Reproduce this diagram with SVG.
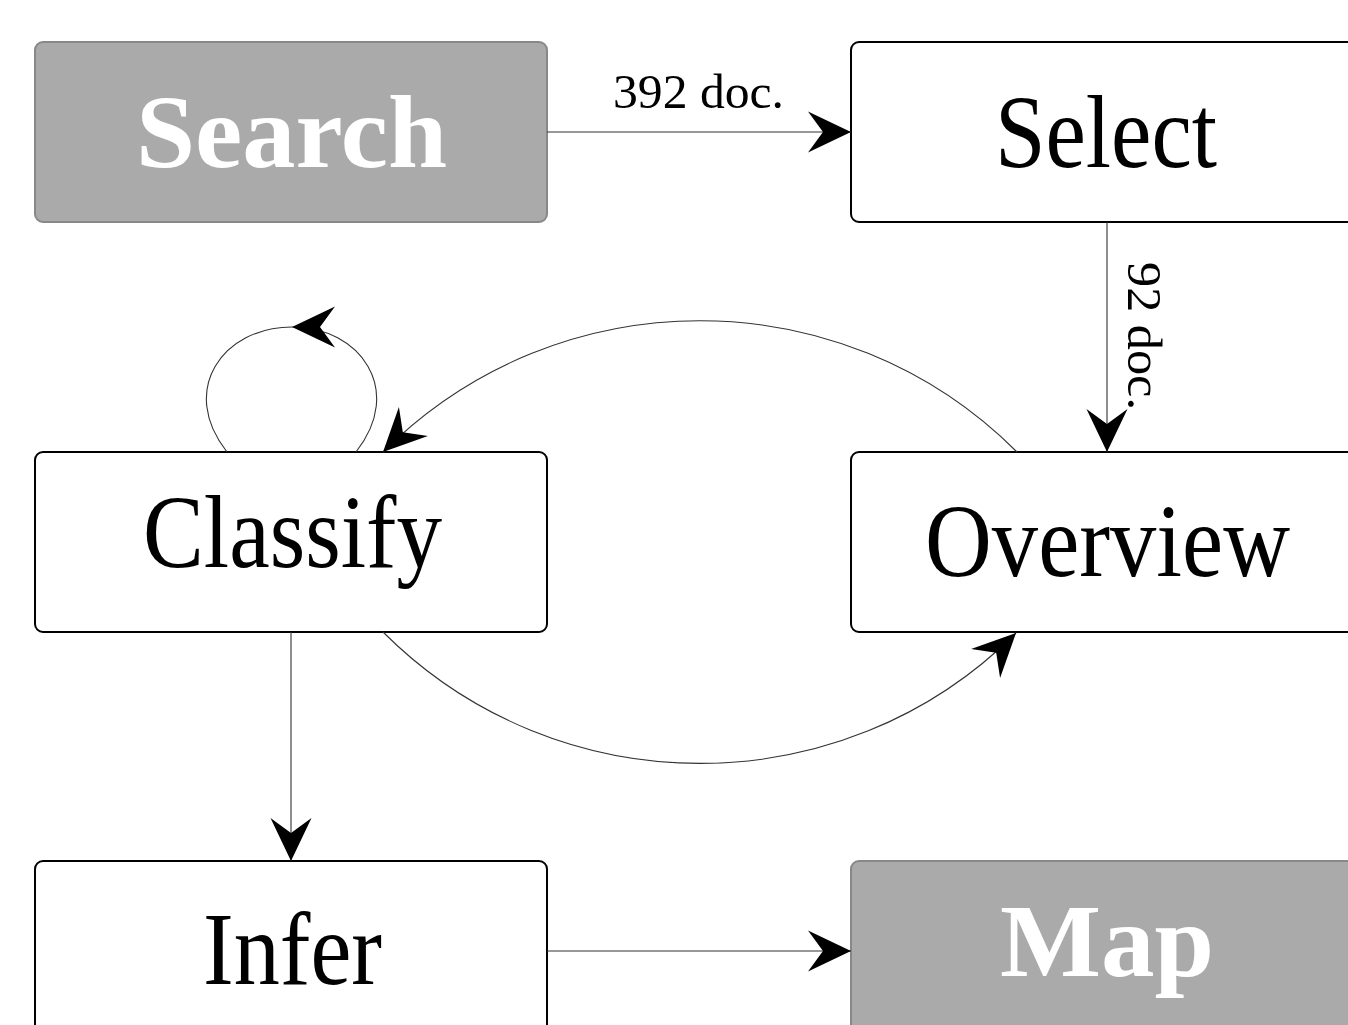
<svg xmlns="http://www.w3.org/2000/svg" width="1348" height="1025" viewBox="0 0 1348 1025">
  <style>
    .box { fill: #ffffff; stroke: #000000; stroke-width: 2; }
    .box-dark { fill: #aaaaaa; stroke: #888888; stroke-width: 2; }
    .label { font-family: "Liberation Serif", "DejaVu Serif", serif; font-size: 104px; fill: #000000; }
    .label-dark { font-family: "Liberation Serif", "DejaVu Serif", serif; font-size: 104px; font-weight: bold; fill: #ffffff; }
    .edge { fill: none; stroke: #333333; stroke-width: 1.1; }
    .edge-label { font-family: "Liberation Serif", "DejaVu Serif", serif; font-size: 48px; fill: #000000; }
  </style>
  <defs>
    <marker id="stealth" markerUnits="userSpaceOnUse" viewBox="-46 -23 48 46" markerWidth="48" markerHeight="46" refX="0" refY="0" orient="auto">
      <path d="M0,0 L-43,-20.5 L-28,0 L-43,20.5 Z" fill="#000000"/>
    </marker>
  </defs>

  <rect width="1348" height="1025" fill="#ffffff"/>

  <!-- nodes -->
  <g id="node-search">
    <rect class="box-dark" x="35" y="42" width="512" height="180" rx="8"/>
    <text class="label-dark" x="136" y="167" textLength="311" lengthAdjust="spacingAndGlyphs">Search</text>
  </g>
  <g id="node-select">
    <rect class="box" x="851" y="42" width="512" height="180" rx="8"/>
    <text class="label" x="995" y="167" textLength="222" lengthAdjust="spacingAndGlyphs">Select</text>
  </g>
  <g id="node-classify">
    <rect class="box" x="35" y="452" width="512" height="180" rx="8"/>
    <text class="label" x="143" y="567" textLength="299" lengthAdjust="spacingAndGlyphs">Classify</text>
  </g>
  <g id="node-overview">
    <rect class="box" x="851" y="452" width="512" height="180" rx="8"/>
    <text class="label" x="925" y="576" textLength="365" lengthAdjust="spacingAndGlyphs">Overview</text>
  </g>
  <g id="node-infer">
    <rect class="box" x="35" y="861" width="512" height="180" rx="8"/>
    <text class="label" x="203" y="984" textLength="179" lengthAdjust="spacingAndGlyphs">Infer</text>
  </g>
  <g id="node-map">
    <rect class="box-dark" x="851" y="861" width="512" height="180" rx="8"/>
    <text class="label-dark" x="1000" y="976" textLength="214" lengthAdjust="spacingAndGlyphs">Map</text>
  </g>

  <!-- connectors -->
  <g id="connectors">
    <path class="edge" d="M547,132 L851,132" marker-end="url(#stealth)"/>
    <text class="edge-label" x="613" y="108" textLength="171" lengthAdjust="spacingAndGlyphs">392 doc.</text>

    <path class="edge" d="M1107,222 L1107,452" marker-end="url(#stealth)"/>
    <text class="edge-label" transform="translate(1128,262) rotate(90)" x="0" y="0" textLength="148" lengthAdjust="spacingAndGlyphs">92 doc.</text>

    <path class="edge" d="M1017,452 C842,277 558,277 383,452" marker-end="url(#stealth)"/>
    <path class="edge" d="M383,632 C558,807 842,807 1016,633" marker-end="url(#stealth)"/>

    <path class="edge" d="M356,452 C405,390 360,327 292,327 C223,327 178,390 227,452" marker-mid="url(#stealth)"/>

    <path class="edge" d="M291,632 L291,861" marker-end="url(#stealth)"/>
    <path class="edge" d="M547,951 L851,951" marker-end="url(#stealth)"/>
  </g>
</svg>
